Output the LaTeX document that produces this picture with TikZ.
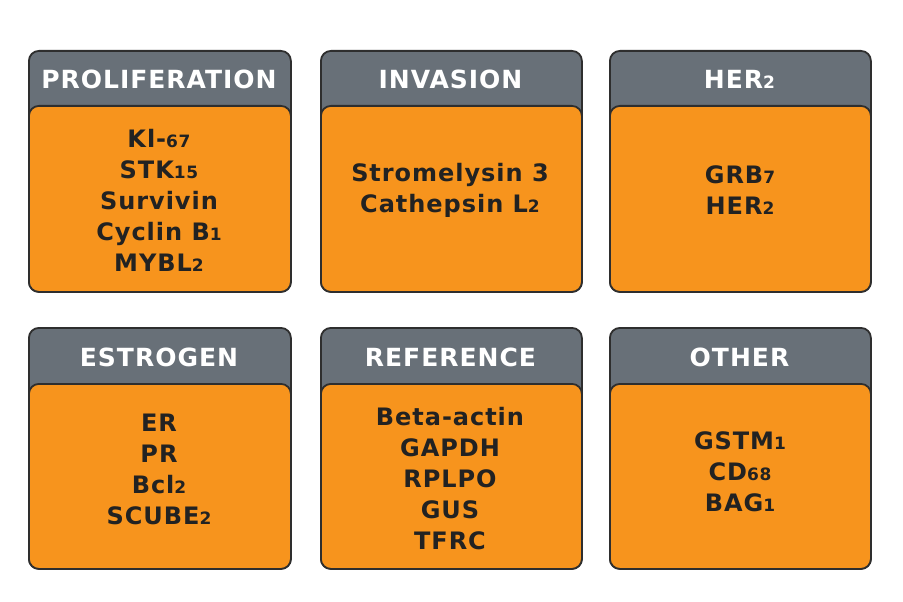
\documentclass[tikz,border=0pt]{standalone}
\usepackage{fontspec}
\setmainfont{DejaVu Sans}
\newfontfamily\widefont[LetterSpace=4]{DejaVu Sans}
\definecolor{hdr}{HTML}{687078}
\definecolor{org}{HTML}{F7941D}
\definecolor{edge}{HTML}{2E2E2E}
\definecolor{txt}{HTML}{222222}
\newcommand\osd[1]{{\fontsize{17pt}{17pt}\selectfont #1}}
\usetikzlibrary{calc}
\tikzset{
  boxframe/.style={draw=edge, line width=1.8pt, fill=hdr, rounded corners=10pt, inner sep=0pt},
  boxbody/.style={draw=edge, line width=1.8pt, fill=org, rounded corners=10pt, inner sep=0pt},
  hdrtext/.style={text=white, font=\widefont\bfseries\fontsize{25pt}{28pt}\selectfont},
  bodytext/.style={text=txt, align=center, font=\widefont\bfseries\fontsize{24pt}{31pt}\selectfont}
}
\newcommand\catbox[7]{%
  \node[boxframe, minimum width={#4-#2}, minimum height={#6-#3}, anchor=north west] (#1f) at (#2,#3) {};
  \node[boxbody, minimum width={#4-#2}, minimum height={#6-#5}, anchor=north west] (#1b) at (#2,#5) {};
  \node[hdrtext] (#1t) at ($(#2,#3)!0.5!(#4,#5)+(0,2)$) {#7};
}
\begin{document}
\begin{tikzpicture}[x=1pt,y=-1pt]
\useasboundingbox (0,0) rectangle (903,602);
\fill[white] (0,0) rectangle (903,602);
% row 1
\catbox{a}{28}{50}{290}{105}{291}{PROLIFERATION}
\node[bodytext] (ax) at (159,200) {Kl-\osd{67}\\STK\osd{15}\\Survivin\\Cyclin B\osd{1}\\MYBL\osd{2}};
\catbox{b}{320}{50}{581}{105}{291}{INVASION}
\node[bodytext] (bx) at (450,190) {Stromelysin 3\\Cathepsin L\osd{2}};
\catbox{c}{609}{50}{870}{105}{291}{HER\osd{2}}
\node[bodytext] (cx) at (740,190) {GRB\osd{7}\\HER\osd{2}};
% row 2
\catbox{d}{28}{327}{290}{383}{568}{ESTROGEN}
\node[bodytext] (dx) at (159,469) {ER\\PR\\Bcl\osd{2}\\SCUBE\osd{2}};
\catbox{e}{320}{327}{581}{383}{568}{REFERENCE}
\node[bodytext] (ex) at (450,479) {Beta-actin\\GAPDH\\RPLPO\\GUS\\TFRC};
\catbox{f}{609}{327}{870}{383}{568}{OTHER}
\node[bodytext] (fx) at (740,472) {GSTM\osd{1}\\CD\osd{68}\\BAG\osd{1}};
\end{tikzpicture}
\end{document}
